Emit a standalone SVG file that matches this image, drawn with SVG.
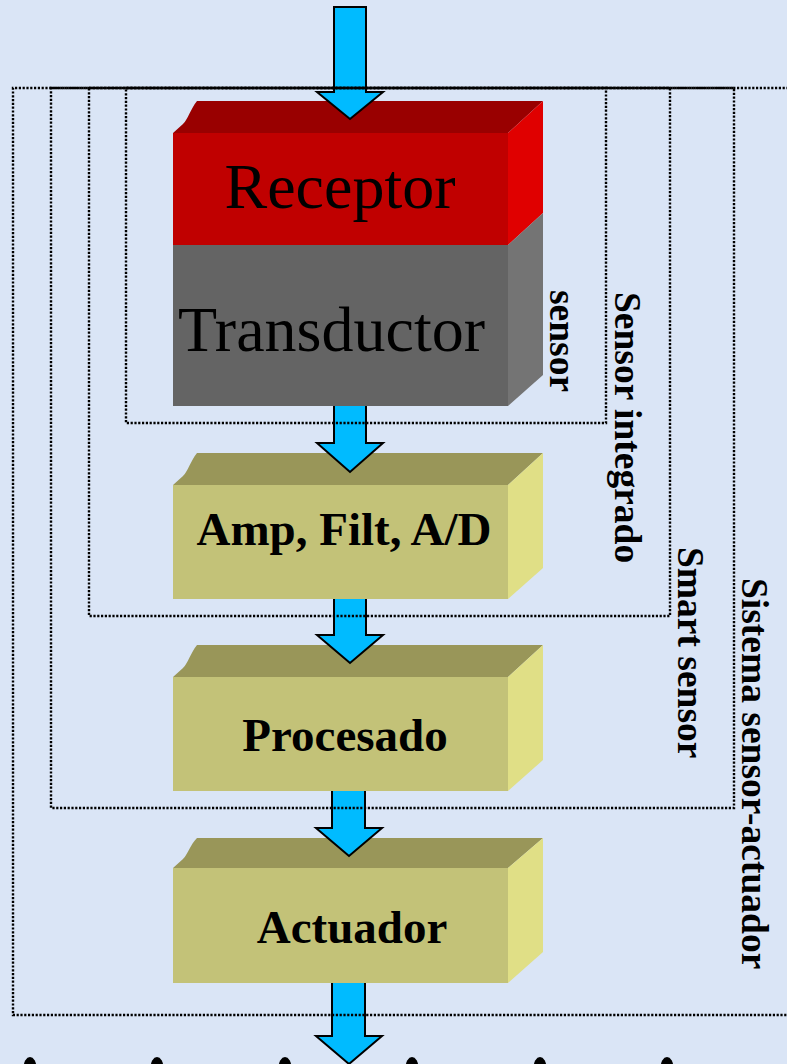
<svg xmlns="http://www.w3.org/2000/svg" width="787" height="1064" viewBox="0 0 787 1064">
<style>
.tr{fill:#990000}.fr{fill:#C00000}.sr{fill:#E00000}
.fg{fill:#646464}.sg{fill:#747474}
.ty{fill:#999659}.fy{fill:#C3C278}.sy{fill:#E0DF86}
.big{font-family:"Liberation Serif",serif;font-size:64px;fill:#000}
.lbl{font-family:"Liberation Serif",serif;font-size:47px;font-weight:bold;fill:#000;text-anchor:middle}
.side{font-family:"Liberation Serif",serif;font-size:37.5px;font-weight:bold;fill:#000}
.arr{fill:#00BBFF;stroke:#000;stroke-width:2;stroke-linejoin:miter}
.dot{fill:none;stroke:#000;stroke-width:2.4;stroke-dasharray:2.2 1.6}
</style>
<rect x="0" y="0" width="787" height="1064" fill="#DAE5F6"/>

<g id="receptor-transductor">
<path class="tr" d="M173,133 L183,124 C188,119 190,110 197,101 H543 L508,133 Z"/>
<rect class="fr" x="173" y="133" width="335" height="112"/>
<polygon class="sr" points="508,133 543,101 543,213 508,245"/>
<rect class="fg" x="173" y="245" width="335" height="161"/>
<polygon class="sg" points="508,245 543,213 543,375 508,406"/>
<text class="big" x="340" y="208" text-anchor="middle">Receptor</text>
<text class="big" x="178" y="351">Transductor</text>
</g>

<g id="amp">
<path class="ty" d="M173,485 L183,476 C188,471 190,462 197,453 H543 L508,485 Z"/>
<rect class="fy" x="173" y="485" width="335" height="114"/>
<polygon class="sy" points="508,485 543,453 543,568 508,599"/>
<text class="lbl" x="344" y="545">Amp, Filt, A/D</text>
</g>

<g id="procesado">
<path class="ty" d="M173,677 L183,668 C188,663 190,654 197,645 H543 L508,677 Z"/>
<rect class="fy" x="173" y="677" width="335" height="114"/>
<polygon class="sy" points="508,677 543,645 543,760 508,791"/>
<text class="lbl" x="345" y="751">Procesado</text>
</g>

<g id="actuador">
<path class="ty" d="M173,868 L183,859 C188,854 190,845 197,838 H543 L508,868 Z"/>
<rect class="fy" x="173" y="868" width="335" height="115"/>
<polygon class="sy" points="508,868 543,838 543,952 508,983"/>
<text class="lbl" x="352" y="943">Actuador</text>
</g>

<g id="connectors">
<path class="arr" d="M334,7 H366 V92 H383 L350,119 L317,92 H334 Z"/>
<path class="arr" d="M366,406 V443 H383 L350,472 L317,443 H334 V406"/>
<path class="arr" d="M366,599 V635 H383 L350,663 L317,635 H334 V599"/>
<path class="arr" d="M365,791 V828 H382 L349,856 L316,828 H332 V791"/>
<path class="arr" d="M365,983 V1036 H382 L349,1064 L316,1036 H332 V983"/>
</g>

<g id="group-sistema">
<path class="dot" d="M800,88 H13 V1015 H800"/>
<text class="side" transform="translate(742,578) rotate(90)">Sistema sensor-actuador</text>
</g>
<g id="group-smart">
<rect class="dot" x="51" y="88" width="683" height="720"/>
<text class="side" transform="translate(678,547) rotate(90)">Smart sensor</text>
</g>
<g id="group-integrado">
<rect class="dot" x="89" y="88" width="581" height="528"/>
<text class="side" transform="translate(615,292) rotate(90)">Sensor integrado</text>
</g>
<g id="group-sensor">
<rect class="dot" x="126" y="88" width="480" height="335"/>
<text class="side" transform="translate(550,290) rotate(90)">sensor</text>
</g>

<g id="bullets" fill="#000">
<ellipse cx="30" cy="1068" rx="6.5" ry="11"/>
<ellipse cx="157" cy="1068" rx="6.5" ry="11"/>
<ellipse cx="285" cy="1068" rx="6.5" ry="11"/>
<ellipse cx="412" cy="1068" rx="6.5" ry="11"/>
<ellipse cx="540" cy="1068" rx="6.5" ry="11"/>
<ellipse cx="667" cy="1068" rx="6.5" ry="11"/>
</g>
</svg>
